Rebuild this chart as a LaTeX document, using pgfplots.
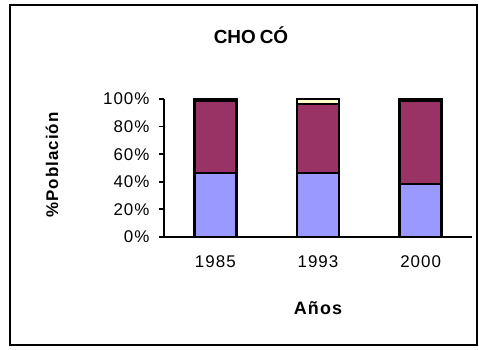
\documentclass[border=0pt]{standalone}
\usepackage{pgfplots}
\pgfplotsset{compat=1.18}
\usepackage{fontspec}
\setmainfont{Liberation Sans}
\newfontfamily\wide[LetterSpace=6]{Liberation Sans}
\definecolor{cblue}{HTML}{9999FF}
\definecolor{cmaroon}{HTML}{993366}
\definecolor{cyellow}{HTML}{FFFFCC}
\begin{document}
\begin{tikzpicture}
\useasboundingbox (0,0) rectangle (479bp,350bp);
\draw[line width=2bp] (10bp,5bp) rectangle (477bp,345bp);
\begin{axis}[
  at={(164bp,113bp)}, anchor=south west,
  scale only axis, width=308bp, height=138bp,
  xmin=-0.5, xmax=2.5, ymin=0, ymax=100,
  ybar stacked, bar width=42bp,
  axis x line=bottom, axis y line=left,
  axis line style={line width=2.2bp, -},
  xtick={0,1,2}, xticklabels={1985,1993,2000},
  major x tick style={draw=none},
  extra x ticks={-0.5,0.5,1.5,2.5}, extra x tick labels={},
  extra x tick style={tick style={line width=1.8bp, black}, major tick length=5bp, tick align=outside},
  ytick={0,20,40,60,80,100},
  yticklabels={0\%,20\%,40\%,60\%,80\%,100\%},
  tick align=outside, major tick length=5bp,
  tick style={line width=1.8bp, black},
  ticklabel style={font=\wide\fontsize{17}{20}\selectfont},
  xticklabel style={yshift=-10bp},
  yticklabel style={xshift=-6bp},
  every axis plot/.append style={draw=black, line width=2.4bp},
  clip=false,
]
\addplot[fill=cblue] coordinates {(0,46.4) (1,46.4) (2,38.6)};
\addplot[fill=cmaroon] coordinates {(0,52.1) (1,50.0) (2,59.9)};
\addplot[fill=cyellow] coordinates {(0,1.5) (1,3.6) (2,1.5)};
\end{axis}
\node[font=\fontsize{19}{22}\selectfont\bfseries] at (251bp,315bp) {CHO\hspace{4bp}CÓ};
\node[font=\wide\fontsize{18}{21}\selectfont\bfseries] at (318bp,42bp) {Años};
\node[font=\wide\fontsize{17}{20}\selectfont\bfseries, rotate=90] at (52bp,185bp) {\%Población};
\end{tikzpicture}
\end{document}
